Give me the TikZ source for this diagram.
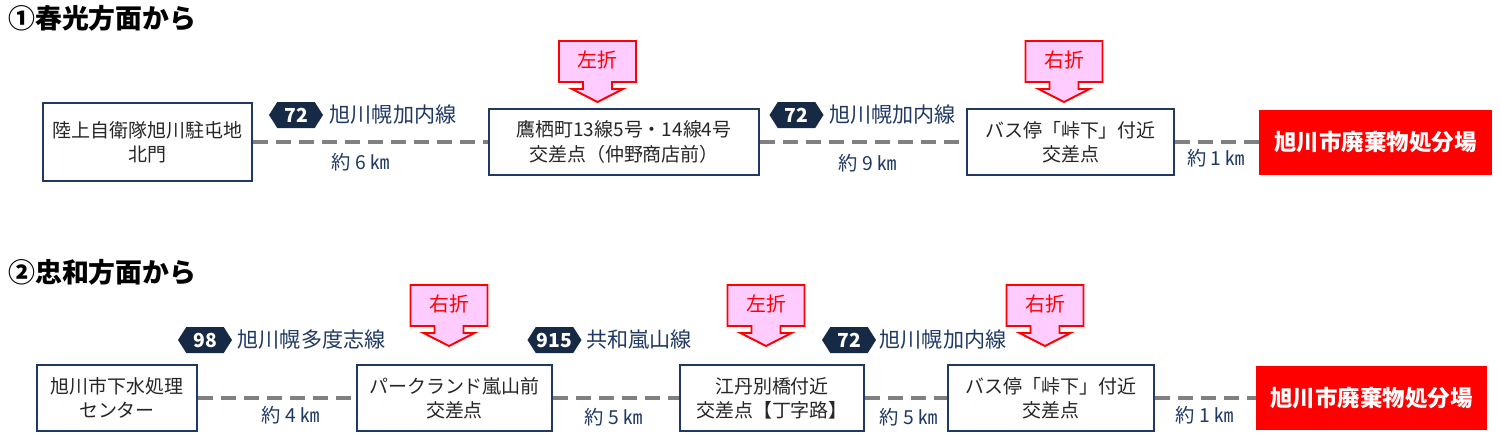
\documentclass[tikz,border=0pt]{standalone}
\usepackage{fontspec}
\newfontfamily\jp{Noto Sans CJK JP}
\usetikzlibrary{positioning,shapes.symbols}

\definecolor{navy}{HTML}{1F3864}
\definecolor{badgeblue}{HTML}{172A45}
\definecolor{roadgray}{HTML}{808080}
\definecolor{turnpink}{HTML}{FFCCFF}
\definecolor{textgray}{HTML}{262626}

\tikzset{
  stopbox/.style={draw=navy, line width=1.1pt, fill=white, text=textgray, align=center, inner sep=0pt, font=\jp\fontsize{10.8}{13.8}\selectfont},
  goalbox/.style={fill=red, text=white, inner sep=0pt, font=\jp\bfseries\fontsize{12.8}{15}\selectfont},
  road/.style={draw=roadgray, line width=2.8pt, dash pattern=on 0.3cm off 0.16cm},
  routeno/.style={signal, signal to=east and west, signal pointer angle=115, fill=badgeblue, text=white, minimum width=1.08cm, minimum height=0.52cm, inner sep=0pt, font=\jp\bfseries\fontsize{11}{12}\selectfont},
  routename/.style={text=navy, inner sep=0pt, font=\jp\fontsize{12}{13}\selectfont},
  dist/.style={text=navy, inner sep=0pt, font=\jp\fontsize{11}{12}\selectfont},
  turnsign/.style={draw=red, line width=1.1pt, fill=turnpink, line join=miter},
  turnlabel/.style={text=red, inner sep=0pt, font=\jp\fontsize{11.3}{12}\selectfont},
  heading/.style={anchor=west, inner sep=0pt, font=\jp\bfseries\fontsize{15.3}{17}\selectfont}
}

\begin{document}
\begin{tikzpicture}[x=0.02cm, y=-0.02cm]
\useasboundingbox (0,0) rectangle (1500,444);

% 春光方面
\node[heading] (h1) at (8,18) {①春光方面から};

\node[stopbox, minimum width=4.18cm, minimum height=1.56cm] (a1) at (147.5,142) {陸上自衛隊旭川駐屯地\\北門};
\node[stopbox, minimum width=5.40cm, minimum height=1.32cm] (a2) at (624,142) {鷹栖町13線5号・14線4号\\交差点（仲野商店前）};
\node[stopbox, minimum width=4.14cm, minimum height=1.32cm] (a3) at (1070.5,142) {バス停「峠下」付近\\交差点};
\node[goalbox, minimum width=4.66cm, minimum height=1.30cm] (a4) at (1375.5,142) {旭川市廃棄物処分場};

\draw[road] (a1) -- (a2);
\draw[road] (a2) -- (a3);
\draw[road] (a3) -- (a4);

\node[routeno] (n1) at (296,115) {72};
\node[routename, right=0.12cm of n1] (r1) {旭川幌加内線};
\node[routeno] (n2) at (796.5,115) {72};
\node[routename, right=0.1cm of n2] (r2) {旭川幌加内線};

\node[dist] (d1) at (361,162) {約 6 ㎞};
\node[dist] (d2) at (868,163) {約 9 ㎞};
\node[dist] (d3) at (1216,158) {約 1 ㎞};

% 忠和方面
\node[heading] (h2) at (8,272) {②忠和方面から};

\node[stopbox, minimum width=3.20cm, minimum height=1.32cm] (b1) at (117,398) {旭川市下水処理\\センター};
\node[stopbox, minimum width=3.90cm, minimum height=1.32cm] (b2) at (454.5,398) {パークランド嵐山前\\交差点};
\node[stopbox, minimum width=3.68cm, minimum height=1.32cm] (b3) at (772,398) {江丹別橋付近\\交差点【丁字路】};
\node[stopbox, minimum width=4.12cm, minimum height=1.32cm] (b4) at (1051,398) {バス停「峠下」付近\\交差点};
\node[goalbox, minimum width=4.62cm, minimum height=1.28cm] (b5) at (1371.5,398) {旭川市廃棄物処分場};

\draw[road] (b1) -- (b2);
\draw[road] (b2) -- (b3);
\draw[road] (b3) -- (b4);
\draw[road] (b4) -- (b5);

\node[routeno] (m1) at (205,340) {98};
\node[routename, right=0.1cm of m1] (s1) {旭川幌多度志線};
\node[routeno] (m2) at (554.5,340) {915};
\node[routename, right=0.08cm of m2] (s2) {共和嵐山線};
\node[routeno] (m3) at (849,340) {72};
\node[routename, right=0.06cm of m3] (s3) {旭川幌加内線};

\node[dist] (e1) at (291,415) {約 4 ㎞};
\node[dist] (e2) at (614,417) {約 5 ㎞};
\node[dist] (e3) at (909,417) {約 5 ㎞};
\node[dist] (e4) at (1205,415) {約 1 ㎞};

% 右折・左折
\foreach \cx/\cy/\txt [count=\i] in {597.5/41/左折, 1064/41/右折, 449/285/右折, 766/285/左折, 1045/285/右折}{
	\draw[turnsign] (\cx-38.5,\cy) -- (\cx+38.5,\cy) -- (\cx+38.5,\cy+41) -- (\cx+14.5,\cy+41)
		-- (\cx+14.5,\cy+48) -- (\cx+25.5,\cy+48) -- (\cx,\cy+61) -- (\cx-25.5,\cy+48)
		-- (\cx-14.5,\cy+48) -- (\cx-14.5,\cy+41) -- (\cx-38.5,\cy+41) -- cycle;
	\node[turnlabel] (turn\i) at (\cx,\cy+19) {\txt};
}
\end{tikzpicture}
\end{document}
